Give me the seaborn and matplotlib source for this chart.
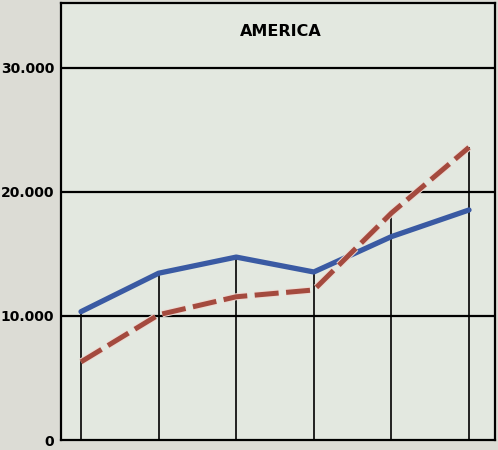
import matplotlib
matplotlib.use("Agg")
import matplotlib.pyplot as plt
import matplotlib.patheffects as pe
import numpy as np
import pandas as pd
import seaborn as sns

# ---- data ----
periods = [0, 1, 2, 3, 4, 5]
series_blue = [10350, 13450, 14750, 13550, 16400, 18550]
series_red = [6300, 10100, 11550, 12100, 18300, 23600]
y_ticks = [0, 10000, 20000, 30000]
y_tick_labels = ["0", "10.000", "20.000", "30.000"]
title = "AMERICA"

df = pd.DataFrame({
    "period": periods * 2,
    "value": series_blue + series_red,
    "series": ["blue"] * len(periods) + ["red"] * len(periods),
})

sns.set_theme(style="white")
plt.rcParams["font.family"] = ["DejaVu Sans"]

fig = plt.figure(figsize=(4.98, 4.5), dpi=100, facecolor="#dcdcd5")
ax = fig.add_axes([61 / 498, 10 / 450, (495 - 61) / 498, (440 - 3) / 450])
ax.set_facecolor("#e3e8e0")

# drop lines from each point down to zero
tops = np.maximum(series_blue, series_red)
ax.vlines(periods, 0, tops, color="black", lw=1.2, zorder=2)

# horizontal grid lines
for t in y_ticks[1:]:
    ax.axhline(t, color="black", lw=1.6, zorder=1)

sns.lineplot(data=df[df.series == "blue"], x="period", y="value", ax=ax,
             color="#3a5aa3", lw=3.8, zorder=4, legend=False)
sns.lineplot(data=df[df.series == "red"], x="period", y="value", ax=ax,
             color="#a44a3e", lw=3.6, zorder=5, legend=False)
red_line = ax.lines[-1]
red_line.set_dashes([4.8, 1.5])
red_line.set_dash_capstyle("butt")
red_line.set_path_effects([pe.Stroke(linewidth=5.0, foreground="#eed9d2"), pe.Normal()])

ax.set_xlim(-0.258, 5.335)
ax.set_ylim(0, 35240)
ax.set_yticks(y_ticks)
ax.set_yticklabels(y_tick_labels, fontsize=10, fontweight="bold", color="black")
ax.set_xticks([])
ax.tick_params(axis="y", length=0, pad=5)
ax.set_xlabel("")
ax.set_ylabel("")
for s in ax.spines.values():
    s.set_color("black")
    s.set_linewidth(1.6)
    s.set_visible(True)

ax.text(0.506, 0.935, title, transform=ax.transAxes, ha="center", va="center",
        fontsize=11.5, fontweight="bold", color="black")

fig.savefig("out.png", dpi=100, facecolor=fig.get_facecolor())
